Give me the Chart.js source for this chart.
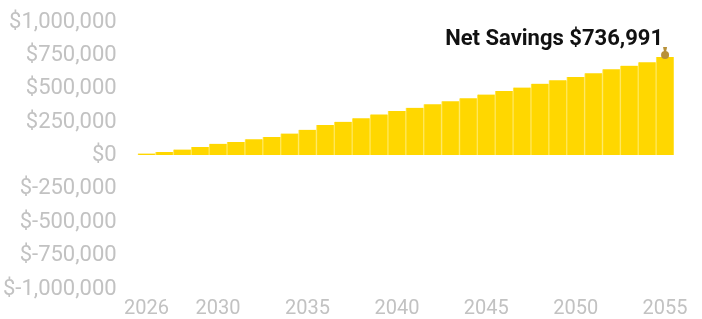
<!DOCTYPE html>
<html>
<head>
<meta charset="utf-8">
<script src="https://cdn.jsdelivr.net/npm/chart.js@4.4.1/dist/chart.umd.min.js"></script>
<style>
  html, body { margin: 0; padding: 0; background: #fff; }
  #wrap { width: 702px; height: 319px; position: relative; }
</style>
</head>
<body>
<div id="wrap"><canvas id="chart"></canvas></div>
<script>
// years on the x axis
const years = [2026, 2027, 2028, 2029, 2030, 2031, 2032, 2033, 2034, 2035,
               2036, 2037, 2038, 2039, 2040, 2041, 2042, 2043, 2044, 2045,
               2046, 2047, 2048, 2049, 2050, 2051, 2052, 2053, 2054, 2055];

// cumulative net savings
const netSavings = [15000, 27000, 45000, 63000, 88000, 101000, 122000, 139000, 164000, 193000,
                    228000, 253000, 279000, 308000, 334000, 357000, 383000, 406000, 429000, 457000,
                    483000, 509000, 538000, 564000, 588000, 617000, 646000, 673000, 699000, 736991];

const shownYears = [2026, 2030, 2035, 2040, 2045, 2050, 2055];
const yMin = -1000000, yMax = 1000000, yStep = 250000;
const labelText = 'Net Savings $736,991';

// text + little money bag over the last bar
const lastBarNote = {
  id: 'lastBarNote',
  afterDatasetsDraw(chart) {
    const meta = chart.getDatasetMeta(0);
    const bar = meta.data[meta.data.length - 1];
    const ctx = chart.ctx;
    ctx.save();
    // bag
    ctx.fillStyle = '#b8913a';
    ctx.beginPath();
    ctx.arc(bar.x, bar.y - 2, 4, 0, Math.PI * 2);
    ctx.fill();
    ctx.beginPath();
    ctx.moveTo(bar.x - 2, bar.y - 10);
    ctx.lineTo(bar.x + 2, bar.y - 10);
    ctx.lineTo(bar.x + 1, bar.y - 5);
    ctx.lineTo(bar.x - 1, bar.y - 5);
    ctx.closePath();
    ctx.fill();
    // label
    ctx.font = 'bold 22px Roboto';
    ctx.fillStyle = '#111';
    ctx.textAlign = 'right';
    ctx.textBaseline = 'alphabetic';
    ctx.fillText(labelText, bar.x - 2, bar.y - 12);
    ctx.restore();
  }
};

new Chart(document.getElementById('chart'), {
  type: 'bar',
  data: {
    labels: years,
    datasets: [{
      label: 'Net Savings',
      data: netSavings,
      backgroundColor: '#FFD700',
      borderColor: '#FFE75A',
      borderWidth: { left: 1, right: 1, top: 0, bottom: 0 },
      barPercentage: 1,
      categoryPercentage: 1
    }]
  },
  options: {
    responsive: true,
    maintainAspectRatio: false,
    animation: false,
    layout: { padding: { top: 22, right: 28, left: 0, bottom: 0 } },
    plugins: { legend: { display: false }, tooltip: { enabled: false } },
    scales: {
      x: {
        grid: { display: false, drawTicks: false },
        border: { display: false },
        afterFit(scale) { scale.height = 30; },
        ticks: {
          autoSkip: false,
          maxRotation: 0,
          padding: 8,
          color: '#c2c2c2',
          font: { family: 'Roboto', size: 20 },
          callback(value, index) {
            const y = years[index];
            return shownYears.includes(y) ? String(y) : '';
          }
        }
      },
      y: {
        min: yMin,
        max: yMax,
        grid: { display: true, color: 'rgba(0,0,0,0)', drawTicks: true, tickLength: 18 },
        border: { display: false },
        ticks: {
          stepSize: yStep,
          padding: 3,
          color: '#c2c2c2',
          font: { family: 'Roboto', size: 22 },
          callback: v => '$' + v.toLocaleString('en-US')
        }
      }
    }
  },
  plugins: [lastBarNote]
});
</script>
</body>
</html>
